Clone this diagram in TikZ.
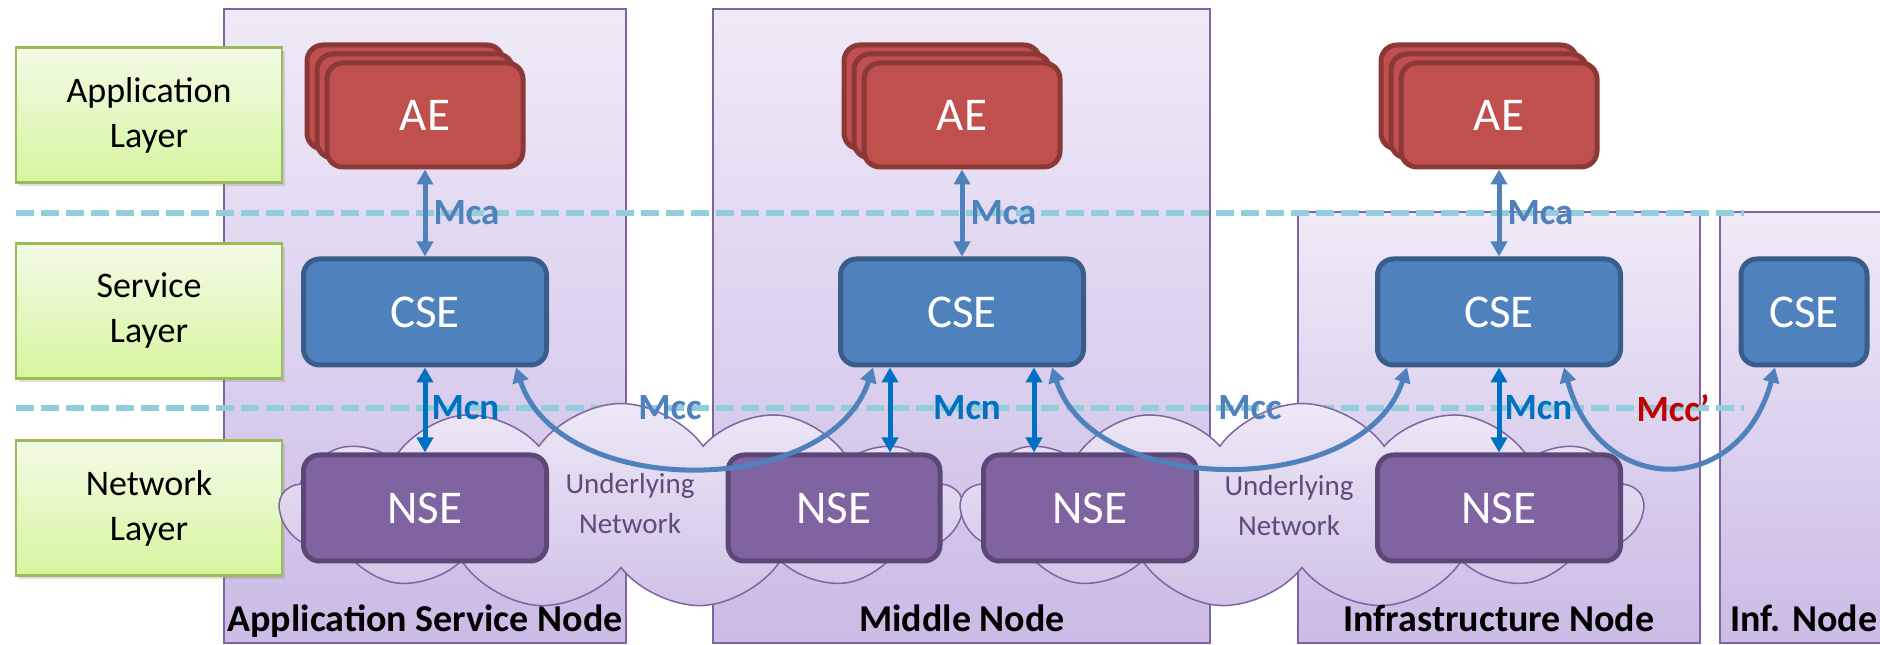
\documentclass[tikz,border=0pt]{standalone}
\usepackage{fontspec}
\setmainfont{Carlito}
\usepackage{tikz}
\usetikzlibrary{positioning, calc}
\usetikzlibrary{arrows.meta}
\usetikzlibrary{shapes,shadows}
\usepackage{color}

\definecolor{aefill}{HTML}{C0504D}
\definecolor{aeline}{HTML}{8C3836}
\definecolor{csefill}{HTML}{4F81BD}
\definecolor{cseline}{HTML}{385D8A}
\definecolor{nsefill}{HTML}{8064A2}
\definecolor{nseline}{HTML}{5C4776}
\definecolor{boxline}{HTML}{8064A2}
\definecolor{boxtop}{HTML}{EFEAF7}
\definecolor{boxbot}{HTML}{CBBBE6}
\definecolor{cloudtop}{HTML}{EEE8F6}
\definecolor{cloudbot}{HTML}{D0C2E7}
\definecolor{laytop}{HTML}{F2FBE6}
\definecolor{laybot}{HTML}{D6F59E}
\definecolor{layline}{HTML}{9BBB59}
\definecolor{dashcol}{HTML}{92CDDC}
\definecolor{mcacol}{HTML}{4F81BD}
\definecolor{mcncol}{HTML}{0070C0}
\definecolor{mccred}{HTML}{C00000}
\definecolor{nettext}{HTML}{604A7B}

\begin{document}
\begin{tikzpicture}[x=1pt,y=1pt,>={Triangle[length=15pt,width=16pt]}]
	\def \rowae{530}
	\def \rowcse{333}
	\def \rownse{137}
	\def \linetop{432}
	\def \linebot{237}
	\def \colasn{425}
	\def \colmid{962}
	\def \colinf{1499}
	\tikzstyle{node-box}=[draw=boxline,line width=1.5pt,top color=boxtop,bottom color=boxbot]
	\tikzstyle{layer}=[rectangle,draw=layline,line width=2.5pt,top color=laytop,bottom color=laybot,minimum width=266pt,minimum height=135pt,align=center,font=\fontsize{36}{45}\selectfont,drop shadow={shadow xshift=3pt,shadow yshift=-4pt,opacity=0.25}]
	\tikzstyle{ae-card}=[rectangle,rounded corners=16pt,draw=aeline,fill=aefill,line width=5pt,minimum width=196pt,minimum height=104pt,text=white,font=\fontsize{47}{47}\selectfont]
	\tikzstyle{cse-node}=[rectangle,rounded corners=16pt,draw=cseline,fill=csefill,line width=5pt,minimum width=243pt,minimum height=106pt,text=white,font=\fontsize{47}{47}\selectfont]
	\tikzstyle{nse-node}=[cse-node,draw=nseline,fill=nsefill]
	\tikzstyle{net}=[cloud,cloud puffs=13,cloud puff arc=110,cloud ignores aspect,draw=boxline,line width=1.5pt,top color=cloudtop,bottom color=cloudbot,minimum width=682pt,minimum height=205pt,inner sep=0pt]
	\tikzstyle{net-text}=[text=nettext,align=center,font=\fontsize{29}{40}\selectfont]
	\tikzstyle{node-name}=[anchor=base,font=\fontsize{38}{38}\selectfont\bfseries]
	\tikzstyle{iface}=[font=\fontsize{37}{37}\selectfont\bfseries]
	\tikzstyle{sep}=[dashcol,line width=6pt,dash pattern=on 18pt off 7pt]
	\tikzstyle{mca}=[<->,mcacol,line width=5pt]
	\tikzstyle{mcn}=[<->,mcncol,line width=5pt]

	\useasboundingbox (0,0) rectangle (1880,645);

	% node boxes
	\draw[node-box] (224,2) rectangle (626,636);
	\draw[node-box] (713,2) rectangle (1210,636);
	\draw[node-box] (1298,2) rectangle (1700,433);
	\draw[node-box] (1720,2) rectangle (1890,433);

	% layer separators
	\draw[sep] (16,\linetop) -- (1744,\linetop);
	\draw[sep] (16,\linebot) -- (1744,\linebot);

	% layers
	\node[layer] 	(applayer)	at (149,530)	{Application\\Layer};
	\node[layer] 	(svclayer)	at (149,334)	{Service\\Layer};
	\node[layer] 	(netlayer)	at (149,137)	{Network\\Layer};

	% underlying networks
	\node[net] 	(net1)	at (621,139)	{};
	\node[net] 	(net2)	at (1302,139)	{};
	\node[net-text] 	(net1-text)	at (630,141)	{Underlying\\Network};
	\node[net-text] 	(net2-text)	at (1289,139)	{Underlying\\Network};

	% application entities
	\foreach \col/\nm in {\colasn/aeasn, \colmid/aemid, \colinf/aeinf} {
		\node[ae-card] 	(\nm-b2)	at (\col-20,\rowae+18)	{};
		\node[ae-card] 	(\nm-b1)	at (\col-10,\rowae+9)	{};
		\node[ae-card] 	(\nm)	at (\col,\rowae)	{AE};
	}

	% common services entities
	\node[cse-node] 	(cseasn)	at (\colasn,\rowcse)	{CSE};
	\node[cse-node] 	(csemid)	at (\colmid,\rowcse)	{CSE};
	\node[cse-node] 	(cseinf)	at (\colinf,\rowcse)	{CSE};
	\node[cse-node,minimum width=126pt] 	(csein)	at (1804,\rowcse)	{CSE};

	% network services entities
	\node[nse-node] 	(nseasn)	at (\colasn,\rownse)	{NSE};
	\node[nse-node,minimum width=212pt] 	(nsemidl)	at (834,\rownse)	{NSE};
	\node[nse-node,minimum width=213pt] 	(nsemidr)	at (1090,\rownse)	{NSE};
	\node[nse-node] 	(nseinf)	at (\colinf,\rownse)	{NSE};

	% reference points
	\path[mca]
		(aeasn)	edge	(cseasn)
		(aemid)	edge	(csemid)
		(aeinf)	edge	(cseinf);
	\path[mcn]
		(cseasn)	edge	(nseasn)
		(cseinf)	edge	(nseinf);
	\draw[mcn] ([xshift=-72pt]csemid.south) -- ([xshift=-72pt]csemid.south |- nsemidl.north);
	\draw[mcn] ([xshift=72pt]csemid.south) -- ([xshift=72pt]csemid.south |- nsemidr.north);
	\draw[mca] ([xshift=91pt]cseasn.south) to[out=-72,in=-108] ([xshift=-89pt]csemid.south);
	\draw[mca] ([xshift=90pt]csemid.south) to[out=-72,in=-108] ([xshift=-92pt]cseinf.south);
	\draw[mca] ([xshift=65pt]cseinf.south) to[out=-75,in=-105,looseness=1.65] ([xshift=-29pt]csein.south);

	% labels
	\node[iface,text=mcacol,anchor=west] 	(mca1)	at (\colasn+5,\linetop)	{Mca};
	\node[iface,text=mcacol,anchor=west] 	(mca2)	at (\colmid+5,\linetop)	{Mca};
	\node[iface,text=mcacol,anchor=west] 	(mca3)	at (\colinf+5,\linetop)	{Mca};
	\node[iface,text=mcncol,anchor=west] 	(mcn1)	at (\colasn+3,\linebot)	{Mcn};
	\node[iface,text=mcncol] 	(mcn2)	at (\colmid+5,\linebot)	{Mcn};
	\node[iface,text=mcncol,anchor=west] 	(mcn3)	at (\colinf+2,\linebot)	{Mcn};
	\node[iface,text=mcacol] 	(mcc1)	at (670,\linebot)	{Mcc};
	\node[iface,text=mcacol] 	(mcc2)	at (1250,\linebot)	{Mcc};
	\node[iface,text=mccred] 	(mcc3)	at (1673,\linebot)	{Mcc’};

	% node names
	\node[node-name] 	(asn)	at (425,13)	{Application Service Node};
	\node[node-name] 	(mn)	at (962,13)	{Middle Node};
	\node[node-name] 	(in)	at (1499,13)	{Infrastructure Node};
	\node[node-name] 	(inf)	at (1804,13)	{Inf. Node};
\end{tikzpicture}
\end{document}
